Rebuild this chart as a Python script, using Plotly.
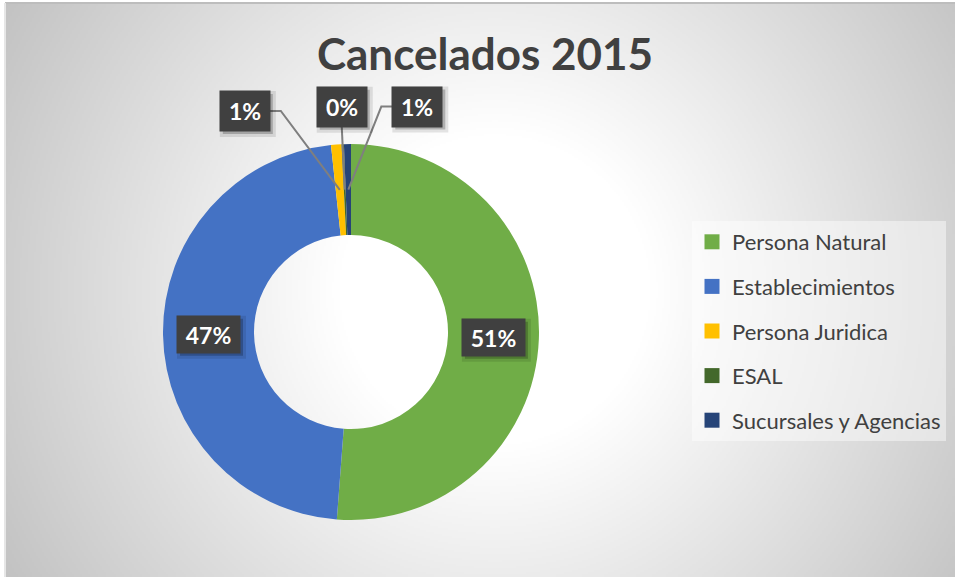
import base64, zlib, struct
import numpy as np
import plotly.graph_objects as go

# ---------------- data ----------------
categories = ["Persona Natural", "Establecimientos", "Persona Juridica", "ESAL", "Sucursales y Agencias"]
values = [51.2, 47.1, 0.9, 0.2, 0.6]
colors = ["#70AD47", "#4472C4", "#FFC000", "#43682B", "#264478"]
title_text = "Cancelados 2015"

# ---------------- geometry / style ----------------
W, H = 955, 577
CX, CY, R = 351, 332, 188            # donut centre & outer radius (px)
HOLE = 0.516
FONT = "Lato"
small_offsets = [(-95, -79), (-3, -83), (69, -83)]   # label offsets for small slices (px)
FX0, FY0 = 5, 3                      # chart frame top-left (px)


def P(x, y):
    """fig pixel -> paper coords"""
    return x / W, 1 - y / H


def png_gray(arr):
    h, w = arr.shape
    raw = b"".join(b"\x00" + arr[i].tobytes() for i in range(h))

    def chunk(t, d):
        c = struct.pack(">I", len(d)) + t + d
        return c + struct.pack(">I", zlib.crc32(t + d) & 0xffffffff)

    return (b"\x89PNG\r\n\x1a\n"
            + chunk(b"IHDR", struct.pack(">IIBBBBB", w, h, 8, 0, 0, 0, 0))
            + chunk(b"IDAT", zlib.compress(raw, 9))
            + chunk(b"IEND", b""))


# radial gradient background (white centre -> grey edges)
bw, bh = (W - FX0) // 2, (H - FY0) // 2
xs = FX0 + (np.arange(bw) + 0.5) * (W - FX0) / bw
ys = FY0 + (np.arange(bh) + 0.5) * (H - FY0) / bh
XX, YY = np.meshgrid(xs, ys)
D = np.hypot(XX - 495, YY - 290)
G = np.clip(278 - 0.147 * D, 0, 255).astype(np.uint8)
bg_uri = "data:image/png;base64," + base64.b64encode(png_gray(G)).decode()

fig = go.Figure()

fig.add_trace(go.Pie(
    labels=categories, values=values,
    marker=dict(colors=colors, line=dict(width=0)),
    hole=HOLE, sort=False, direction="clockwise", rotation=0,
    textinfo="none", showlegend=False,
    domain=dict(x=[(CX - R) / W, (CX + R) / W],
                y=[(H - CY - R) / H, (H - CY + R) / H]),
))

# legend entries (one group each so the gap can be set)
for cat, col in zip(categories, colors):
    fig.add_trace(go.Scatter(
        x=[None], y=[None], mode="markers", name=cat, legendgroup=cat,
        marker=dict(symbol="square", size=15, color=col), hoverinfo="skip",
    ))

# ---------------- data labels ----------------
total = sum(values)
rm = R * (1 + HOLE) / 2
annotations, shapes_lines, shapes_shadow = [], [], []
cum = 0.0
k = 0
for v in values:
    pct = v / total * 100
    mid = (cum + v / 2) / total * 2 * np.pi
    cum += v
    px = CX + rm * np.sin(mid)
    py = CY - rm * np.cos(mid)
    big = pct >= 5
    if big:
        lx, ly = px, py
        bwid, bhei = 63, 37
    else:
        dx, dy = small_offsets[k]
        k += 1
        lx, ly = px + dx, py + dy
        bwid, bhei = 50, 40
        # leader line
        if abs(dx) < 20:
            pts = [(lx, ly + bhei / 2), (px, py)]
        elif dx < 0:
            pts = [(lx + bwid / 2, ly), (lx + bwid / 2 + 11, ly), (px, py)]
        else:
            pts = [(lx - bwid / 2, ly), (lx - bwid / 2 - 11, ly), (px, py)]
        path = "M " + " L ".join(f"{P(a, b)[0]:.5f},{P(a, b)[1]:.5f}" for a, b in pts)
        shapes_lines.append(dict(type="path", xref="paper", yref="paper", path=path,
                                 line=dict(color="#7f7f7f", width=2), layer="above"))
    # shadow
    for off, alpha, grow in ((3, 0.10, 3), (3, 0.22, 0)):
        x0, y0 = P(lx - bwid / 2 + off - grow, ly - bhei / 2 + off - grow)
        x1, y1 = P(lx + bwid / 2 + off + grow, ly + bhei / 2 + off + grow)
        shapes_shadow.append(dict(type="rect", xref="paper", yref="paper",
                                  x0=x0, y0=y0, x1=x1, y1=y1, layer="above",
                                  fillcolor=f"rgba(0,0,0,{alpha})", line=dict(width=0)))
    xp, yp = P(lx, ly)
    annotations.append(dict(
        x=xp, y=yp, xref="paper", yref="paper", showarrow=False,
        xanchor="center", yanchor="middle",
        text=f"<b>{round(pct):.0f}%</b>",
        font=dict(family=FONT, size=23, color="white"),
        bgcolor="#404040", width=bwid - 4, height=bhei - 4, borderpad=2,
    ))

# thin frame edges (top darker, left lighter)
fx0, fy0 = P(FX0, FY0)
frame = [
    dict(type="line", xref="paper", yref="paper", x0=fx0, x1=1, y0=fy0, y1=fy0,
         line=dict(color="#bdbdbd", width=2), layer="below"),
    dict(type="line", xref="paper", yref="paper", x0=fx0, x1=fx0, y0=0, y1=fy0,
         line=dict(color="#e6e6e6", width=2), layer="below"),
]

fig.update_layout(
    width=W, height=H,
    margin=dict(l=0, r=0, t=0, b=0, autoexpand=False),
    paper_bgcolor="white", plot_bgcolor="rgba(0,0,0,0)",
    xaxis=dict(visible=False), yaxis=dict(visible=False),
    title=dict(text=f"<b>{title_text}</b>", x=485 / W, xanchor="center",
               y=1 - 55 / H, yanchor="middle",
               font=dict(family=FONT, size=44, color="#404040")),
    legend=dict(x=692 / W, xanchor="left", y=1 - 221 / H, yanchor="top",
                bgcolor="rgba(255,255,255,0.45)", traceorder="grouped",
                tracegroupgap=13,
                font=dict(family=FONT, size=22, color="#404040")),
    annotations=annotations,
    shapes=frame + shapes_lines + shapes_shadow,
    images=[dict(source=bg_uri, xref="paper", yref="paper",
                 x=fx0, y=fy0, sizex=1 - fx0, sizey=fy0,
                 xanchor="left", yanchor="top", sizing="stretch", layer="below")],
)

fig.write_html(
    "out.html",
    config={"displayModeBar": False},
    post_script="document.body.style.margin='0';document.body.style.overflow='hidden';",
)
